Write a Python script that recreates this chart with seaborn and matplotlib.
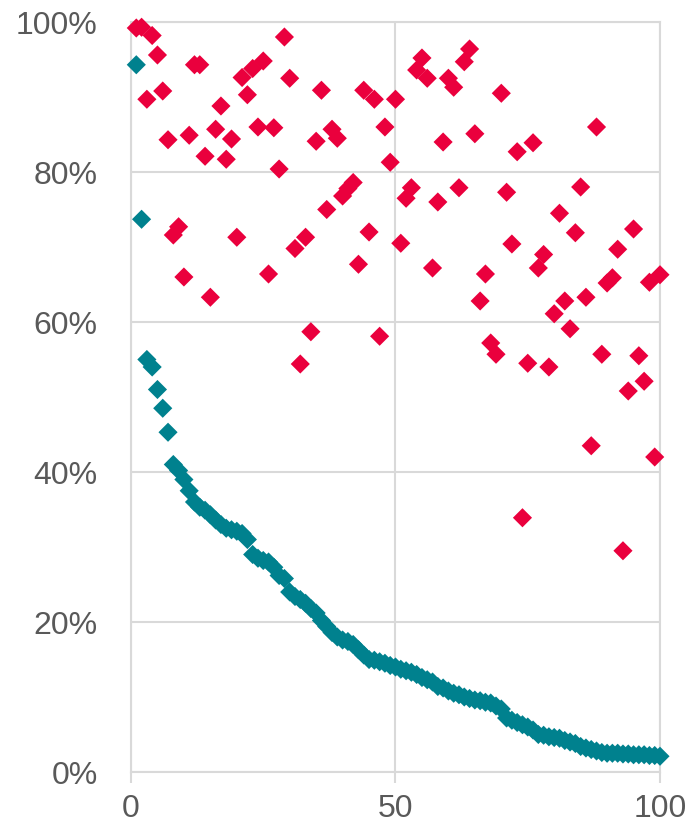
import matplotlib
matplotlib.use("Agg")
import matplotlib.pyplot as plt
import numpy as np
import pandas as pd
import seaborn as sns
from matplotlib.ticker import FuncFormatter

# values, in percent, for x = 1..100
x_index = list(range(1, 101))

red_values = [
    99.2, 99.3, 89.7, 98.2, 95.6, 90.8, 84.3, 71.6, 72.7, 66.0,
    84.9, 94.3, 94.3, 82.1, 63.3, 85.7, 88.8, 81.7, 84.4, 71.3,
    92.6, 90.3, 93.8, 86.0, 94.8, 66.4, 85.9, 80.4, 98.0, 92.5,
    69.8, 54.4, 71.3, 58.7, 84.1, 90.9, 75.0, 85.7, 84.5, 76.8,
    77.8, 78.6, 67.7, 90.9, 72.0, 89.7, 58.1, 86.0, 81.3, 89.7,
    70.5, 76.5, 77.9, 93.6, 95.2, 92.5, 67.2, 76.0, 84.0, 92.5,
    91.3, 77.9, 94.7, 96.4, 85.1, 62.8, 66.4, 57.2, 55.7, 90.5,
    77.3, 70.4, 82.7, 33.9, 54.5, 83.9, 67.2, 69.0, 54.0, 61.1,
    74.5, 62.8, 59.1, 71.9, 78.0, 63.3, 43.5, 86.0, 55.7, 65.2,
    65.9, 69.7, 29.5, 50.8, 72.4, 55.5, 52.1, 65.3, 42.0, 66.3,
]

teal_values = [
    94.3, 73.7, 55.0, 54.0, 51.0, 48.5, 45.3, 41.0, 40.2, 39.0,
    37.5, 36.0, 35.3, 34.9, 34.3, 33.6, 33.0, 32.5, 32.3, 32.1,
    31.8, 31.0, 29.0, 28.5, 28.2, 28.0, 27.3, 26.2, 25.8, 24.0,
    23.4, 23.0, 22.5, 21.8, 21.2, 20.2, 19.4, 18.6, 18.0, 17.6,
    17.4, 17.0, 16.3, 15.6, 15.0, 14.9, 14.7, 14.5, 14.2, 14.0,
    13.7, 13.5, 13.3, 13.0, 12.6, 12.3, 12.0, 11.4, 11.2, 10.8,
    10.5, 10.3, 10.0, 9.8, 9.6, 9.5, 9.3, 9.2, 8.8, 8.4,
    7.2, 6.9, 6.6, 6.3, 6.0, 5.6, 5.0, 4.9, 4.7, 4.6,
    4.5, 4.2, 4.0, 3.8, 3.4, 3.2, 3.0, 2.8, 2.6, 2.5,
    2.5, 2.5, 2.4, 2.4, 2.3, 2.3, 2.3, 2.2, 2.2, 2.1,
]

x_ticks = [0, 50, 100]
y_ticks = [0, 0.2, 0.4, 0.6, 0.8, 1.0]

sns.set_theme(style="white")
plt.rcParams["font.family"] = ["Liberation Sans", "DejaVu Sans"]

data = pd.concat(
    [
        pd.DataFrame({"x": x_index, "value": np.array(red_values) / 100, "series": "red"}),
        pd.DataFrame({"x": x_index, "value": np.array(teal_values) / 100, "series": "teal"}),
    ],
    ignore_index=True,
)

grid_color = "#D9D9D9"
text_color = "#595959"

fig = plt.figure(figsize=(6.87, 8.30), dpi=100)
ax = fig.add_axes([131 / 687, 1 - 772 / 830, 529 / 687, 750 / 830])

sns.scatterplot(
    data=data, x="x", y="value", hue="series",
    palette={"red": "#EA003D", "teal": "#00818E"},
    marker="D", s=95, linewidth=0, legend=False, ax=ax, zorder=3, clip_on=False,
)

ax.set_xlim(0, 100)
ax.set_ylim(0, 1)
ax.set_xticks(x_ticks)
ax.set_yticks(y_ticks)
ax.yaxis.set_major_formatter(FuncFormatter(lambda v, _: f"{v:.0%}"))
ax.set_xlabel("")
ax.set_ylabel("")

ax.grid(True, color=grid_color, linewidth=1.5, zorder=0)
ax.set_axisbelow(True)
for spine in ax.spines.values():
    spine.set_color(grid_color)
    spine.set_linewidth(1.5)

ax.tick_params(axis="x", length=8, width=1.5, color=grid_color, pad=8,
               labelsize=23, labelcolor=text_color, bottom=True)
ax.tick_params(axis="y", length=0, pad=24, labelsize=23, labelcolor=text_color)

fig.savefig("out.png", dpi=100)
plt.close(fig)
